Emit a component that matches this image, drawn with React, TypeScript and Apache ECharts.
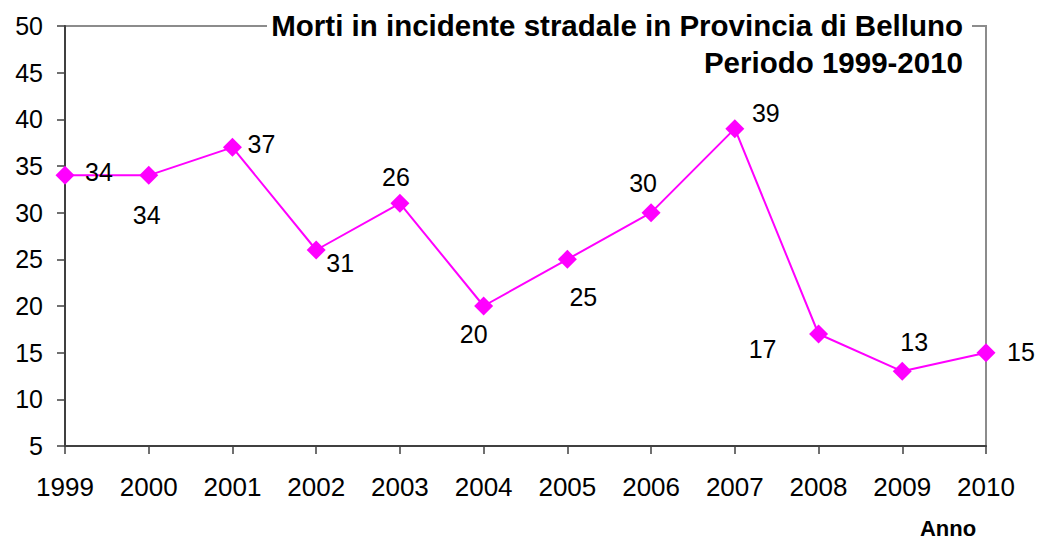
import React, { useEffect, useRef } from "react";
import * as echarts from "echarts";

const years = ["1999", "2000", "2001", "2002", "2003", "2004", "2005", "2006", "2007", "2008", "2009", "2010"];
const deaths = [34, 34, 37, 26, 31, 20, 25, 30, 39, 17, 13, 15];
// labels as they appear on the original chart
const labelTexts = ["34", "34", "37", "31", "26", "20", "25", "30", "39", "17", "13", "15"];
const labelOffsets: [number, number][] = [
  [34, -3], [-2, 40], [29, -3], [24, 13], [-4, -26], [-10, 28],
  [16, 38], [-8, -30], [31, -16], [-56, 15], [12, -29], [35, -1],
];
const titleLines = ["Morti in incidente stradale in Provincia di Belluno", "Periodo 1999-2010"];
const xName = "Anno";

const FONT = "'Liberation Sans', Arial, sans-serif";

export default function App() {
  const ref = useRef<HTMLDivElement>(null);
  useEffect(() => {
    if (!ref.current) return;
    const chart = echarts.init(ref.current, undefined, { renderer: "svg" });
    chart.setOption({
      animation: false,
      backgroundColor: "#ffffff",
      textStyle: { fontFamily: FONT },
      grid: {
        left: 65,
        top: 26,
        right: 52,
        bottom: 95,
        show: true,
        borderColor: "#8c8c8c",
        borderWidth: 2,
        backgroundColor: "transparent",
      },
      xAxis: {
        type: "category",
        data: years,
        boundaryGap: false,
        axisLine: { show: true, lineStyle: { color: "#404040", width: 2 } },
        axisTick: { show: true, inside: false, length: 8, alignWithLabel: true, lineStyle: { color: "#404040", width: 1.5 } },
        axisLabel: { interval: 0, fontSize: 26, color: "#000000", margin: 28, fontFamily: FONT },
        splitLine: { show: false },
      },
      yAxis: {
        type: "value",
        min: 5,
        max: 50,
        interval: 5,
        axisLine: { show: true, lineStyle: { color: "#404040", width: 2 } },
        axisTick: { show: true, inside: false, length: 8, lineStyle: { color: "#404040", width: 1.5 } },
        axisLabel: { fontSize: 25, color: "#000000", margin: 22, fontFamily: FONT },
        splitLine: { show: false },
      },
      graphic: [
        {
          type: "rect",
          z: 90,
          shape: { x: 267, y: 8, width: 705, height: 36 },
          style: { fill: "#ffffff" },
        },
        {
          type: "text",
          z: 100,
          x: 963,
          y: 25,
          style: {
            text: titleLines[0],
            align: "right",
            verticalAlign: "middle",
            fontFamily: FONT,
            fontSize: 29.5,
            fontWeight: "bold",
            fill: "#000000",
          },
        },
        {
          type: "text",
          z: 100,
          x: 963,
          y: 62.5,
          style: {
            text: titleLines[1],
            align: "right",
            verticalAlign: "middle",
            fontFamily: FONT,
            fontSize: 29.5,
            fontWeight: "bold",
            fill: "#000000",
          },
        },
        {
          type: "text",
          z: 100,
          x: 948,
          y: 528,
          style: {
            text: xName,
            align: "center",
            verticalAlign: "middle",
            fontFamily: FONT,
            fontSize: 22,
            fontWeight: "bold",
            fill: "#000000",
          },
        },
      ],
      series: [
        {
          type: "line",
          data: deaths.map((v, i) => ({
            value: v,
            label: {
              show: true,
              position: "inside",
              offset: labelOffsets[i],
              formatter: labelTexts[i],
            },
          })),
          symbol: "diamond",
          symbolSize: [19, 19],
          lineStyle: { color: "#ff00ff", width: 2 },
          itemStyle: { color: "#ff00ff" },
          label: {
            show: true,
            fontFamily: FONT,
            fontSize: 25,
            color: "#000000",
            align: "center",
            verticalAlign: "middle",
          },
          z: 3,
        },
      ],
    });
    return () => chart.dispose();
  }, []);
  return (
    <div
      ref={ref}
      style={{ position: "fixed", left: 0, top: 0, width: 1038, height: 541, background: "#fff" }}
    />
  );
}
